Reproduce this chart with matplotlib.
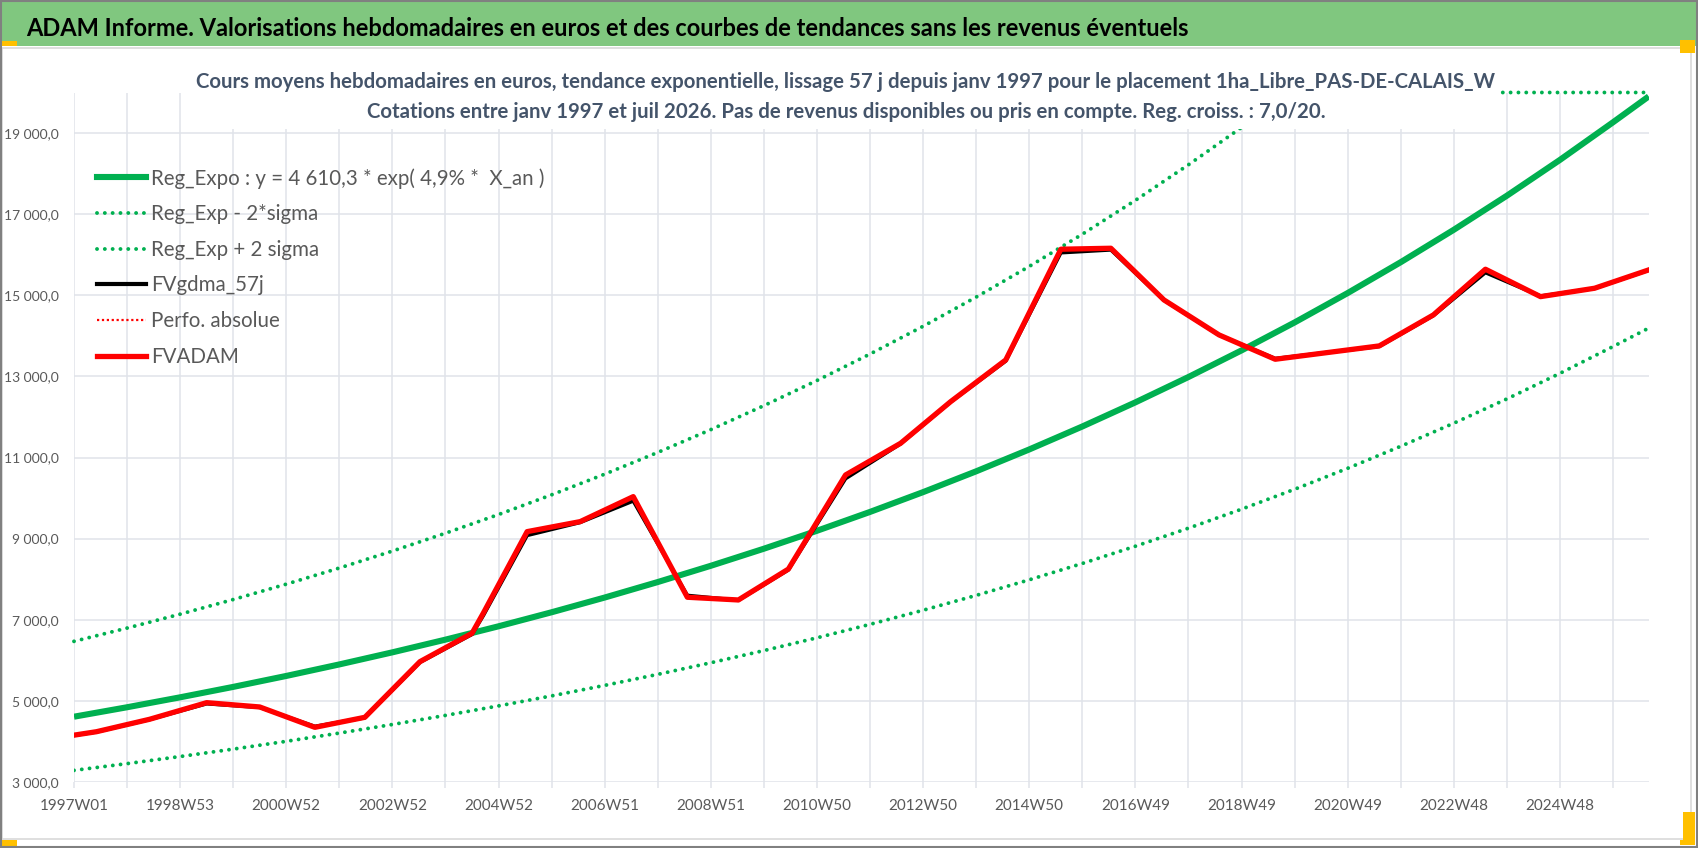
import matplotlib
matplotlib.use("Agg")
import matplotlib.pyplot as plt
from matplotlib.lines import Line2D
from matplotlib.patches import Rectangle

FONT = ['Lato', 'DejaVu Sans']
plt.rcParams['font.family'] = FONT

# ---- data (x = week index since 1997W01) ----
week_labels = ['1997W01', '1998W53', '2000W52', '2002W52', '2004W52', '2006W51',
               '2008W51', '2010W50', '2012W50', '2014W50', '2016W49', '2018W49',
               '2020W49', '2022W48', '2024W48']
n_weeks = 1544

# trend curves sampled once a year
trend_weeks = [0, 52, 104, 156, 208, 260, 312, 364, 416, 468, 520, 572, 624, 676, 728,
               780, 832, 884, 936, 988, 1040, 1092, 1144, 1196, 1248, 1300, 1352, 1404,
               1456, 1508, 1543]
reg_expo = [4610, 4843, 5088, 5345, 5615, 5899, 6197, 6510, 6839, 7185, 7548, 7930,
            8331, 8752, 9194, 9659, 10147, 10660, 11199, 11765, 12360, 12985, 13641,
            14330, 15055, 15816, 16615, 17455, 18338, 19265, 19903]
reg_minus = [3287, 3453, 3628, 3811, 4003, 4206, 4418, 4642, 4876, 5123, 5382, 5654,
             5940, 6240, 6555, 6887, 7235, 7601, 7985, 8388, 8813, 9258, 9726, 10217,
             10734, 11277, 11846, 12445, 13075, 13736, 14191]
reg_plus = [6468, 6795, 7138, 7499, 7878, 8276, 8694, 9134, 9595, 10081, 10590, 11126,
            11688, 12279, 12899, 13552, 14236, 14956, 15712, 16506, 17341, 18218, 19138,
            20000, 20000, 20000, 20000, 20000, 20000, 20000, 20000]

fv_weeks = [0, 22, 74, 130, 182, 236, 285, 339, 390, 401, 444, 496, 548, 601, 651, 700,
            756, 810, 859, 913, 967, 1016, 1068, 1122, 1177, 1279, 1332, 1383, 1437,
            1490, 1543]
fvadam = [4155, 4240, 4546, 4956, 4850, 4348, 4595, 5967, 6667, 7160, 9173, 9420, 10036,
          7555, 7488, 8250, 10570, 11352, 12378, 13406, 16136, 16160, 14886, 14023,
          13423, 13752, 14516, 15643, 14967, 15174, 15626]
fvgdma = [4150, 4235, 4540, 4930, 4840, 4370, 4585, 5950, 6640, 7100, 9080, 9400, 9930,
          7600, 7480, 8230, 10480, 11340, 12370, 13380, 16050, 16120, 14880, 14020,
          13440, 13740, 14500, 15560, 14980, 15170, 15620]

GREEN = '#00b050'
GRID = '#e0e3e9'
W, H = 1698, 848

fig = plt.figure(figsize=(W / 100, H / 100), dpi=100)
ax = fig.add_axes([74 / W, 1 - 782 / H, (1648.7 - 74) / W, (782 - 92.5) / H])

dots = (0, (0.01, 2.0))
ax.plot(trend_weeks, reg_minus, color=GREEN, lw=2.8, linestyle=dots, dash_capstyle='round')
ax.plot(trend_weeks, reg_plus, color=GREEN, lw=2.8, linestyle=dots, dash_capstyle='round',
        clip_on=False)
ax.plot(trend_weeks, reg_expo, color=GREEN, lw=4.4, solid_capstyle='butt')
ax.plot(fv_weeks, fvgdma, color='black', lw=2.6, solid_joinstyle='round')
ax.plot(fv_weeks, fvadam, color='red', lw=1.2, linestyle=dots)
ax.plot(fv_weeks, fvadam, color='red', lw=3.8, solid_joinstyle='round')

ax.set_xlim(0, n_weeks - 1)
ax.set_ylim(3000, 20000)

xt = list(range(0, n_weeks, 52))
ax.set_xticks(xt)
ax.set_xticklabels([week_labels[i // 2] if i % 2 == 0 else '' for i in range(len(xt))])
yt = list(range(3000, 20000, 2000))
ax.set_yticks(yt)
ax.set_yticklabels([f"{v:,.1f}".replace(',', ' ').replace('.', ',') for v in yt])

ax.grid(True, color=GRID, lw=1.1)
for s in ax.spines.values():
    s.set_visible(False)
ax.tick_params(axis='x', length=4, color=GRID, width=1.1, pad=8, labelsize=11,
               labelcolor='#595959')
ax.tick_params(axis='y', length=0, pad=11, labelsize=10, labelcolor='#595959')

handles = [
    Line2D([], [], color=GREEN, lw=4.4),
    Line2D([], [], color=GREEN, lw=2.8, linestyle=dots, dash_capstyle='round'),
    Line2D([], [], color=GREEN, lw=2.8, linestyle=dots, dash_capstyle='round'),
    Line2D([], [], color='black', lw=3),
    Line2D([], [], color='red', lw=1.6, linestyle=(0, (1, 1.2))),
    Line2D([], [], color='red', lw=3.8),
]
labels = ['Reg_Expo : y = 4 610,3 * exp( 4,9% *  X_an )', 'Reg_Exp - 2*sigma',
          'Reg_Exp + 2 sigma', 'FVgdma_57j', 'Perfo. absolue', 'FVADAM']
leg = ax.legend(handles, labels, loc='upper left', bbox_to_anchor=(97 / W, 1 - 168 / H),
                bbox_transform=fig.transFigure, frameon=False, fontsize=14.8,
                handlelength=2.4, handletextpad=0.25, labelspacing=0.76,
                borderpad=0, borderaxespad=0)
for t in leg.get_texts():
    t.set_color('#595959')

# header band and frame
fig.add_artist(Rectangle((0, 1 - 46 / H), 1, 46 / H, transform=fig.transFigure,
                         facecolor='#80c77f', edgecolor='none', zorder=1))
fig.add_artist(Rectangle((2 / W, 1 - 839 / H), 1689 / W, (839 - 48) / H,
                         transform=fig.transFigure, facecolor='none',
                         edgecolor='#d9d9d9', lw=1.2, zorder=1))
fig.add_artist(Rectangle((0.0005, 0.001), 0.999, 0.998, transform=fig.transFigure,
                         facecolor='none', edgecolor='#808080', lw=1.5, zorder=5))
for (x0, y0, w, h) in [(0, 41, 17, 5), (0, 840, 17, 6), (1680, 40, 15, 13),
                       (1683, 812, 12, 33), (1680, 840, 15, 5)]:
    fig.add_artist(Rectangle((x0 / W, 1 - (y0 + h) / H), w / W, h / H,
                             transform=fig.transFigure, facecolor='#ffc000',
                             edgecolor='none', zorder=4))

fig.text(26 / W, 1 - 36 / H,
         'ADAM Informe. Valorisations hebdomadaires en euros et des courbes de tendances '
         'sans les revenus éventuels',
         fontsize=17, fontweight='bold', color='black', va='baseline', ha='left', zorder=3)

# chart title box (white, covers top of the plot)
fig.add_artist(Rectangle((197 / W, 1 - 129 / H), (1497 - 197) / W, (129 - 60) / H,
                         transform=fig.transFigure, facecolor='white', edgecolor='none',
                         zorder=2))
sub_color = '#44546a'
fig.text(846 / W, 1 - 88.5 / H,
         'Cours moyens hebdomadaires en euros, tendance exponentielle, lissage 57 j depuis '
         'janv 1997 pour le placement 1ha_Libre_PAS-DE-CALAIS_W',
         fontsize=14.7, fontweight='bold', color=sub_color, ha='center', va='baseline',
         zorder=3)
fig.text(846 / W, 1 - 118.5 / H,
         'Cotations entre janv 1997 et juil 2026. Pas de revenus disponibles ou pris en '
         'compte. Reg. croiss. : 7,0/20.',
         fontsize=14.7, fontweight='bold', color=sub_color, ha='center', va='baseline',
         zorder=3)

fig.savefig('out.png', dpi=100)
